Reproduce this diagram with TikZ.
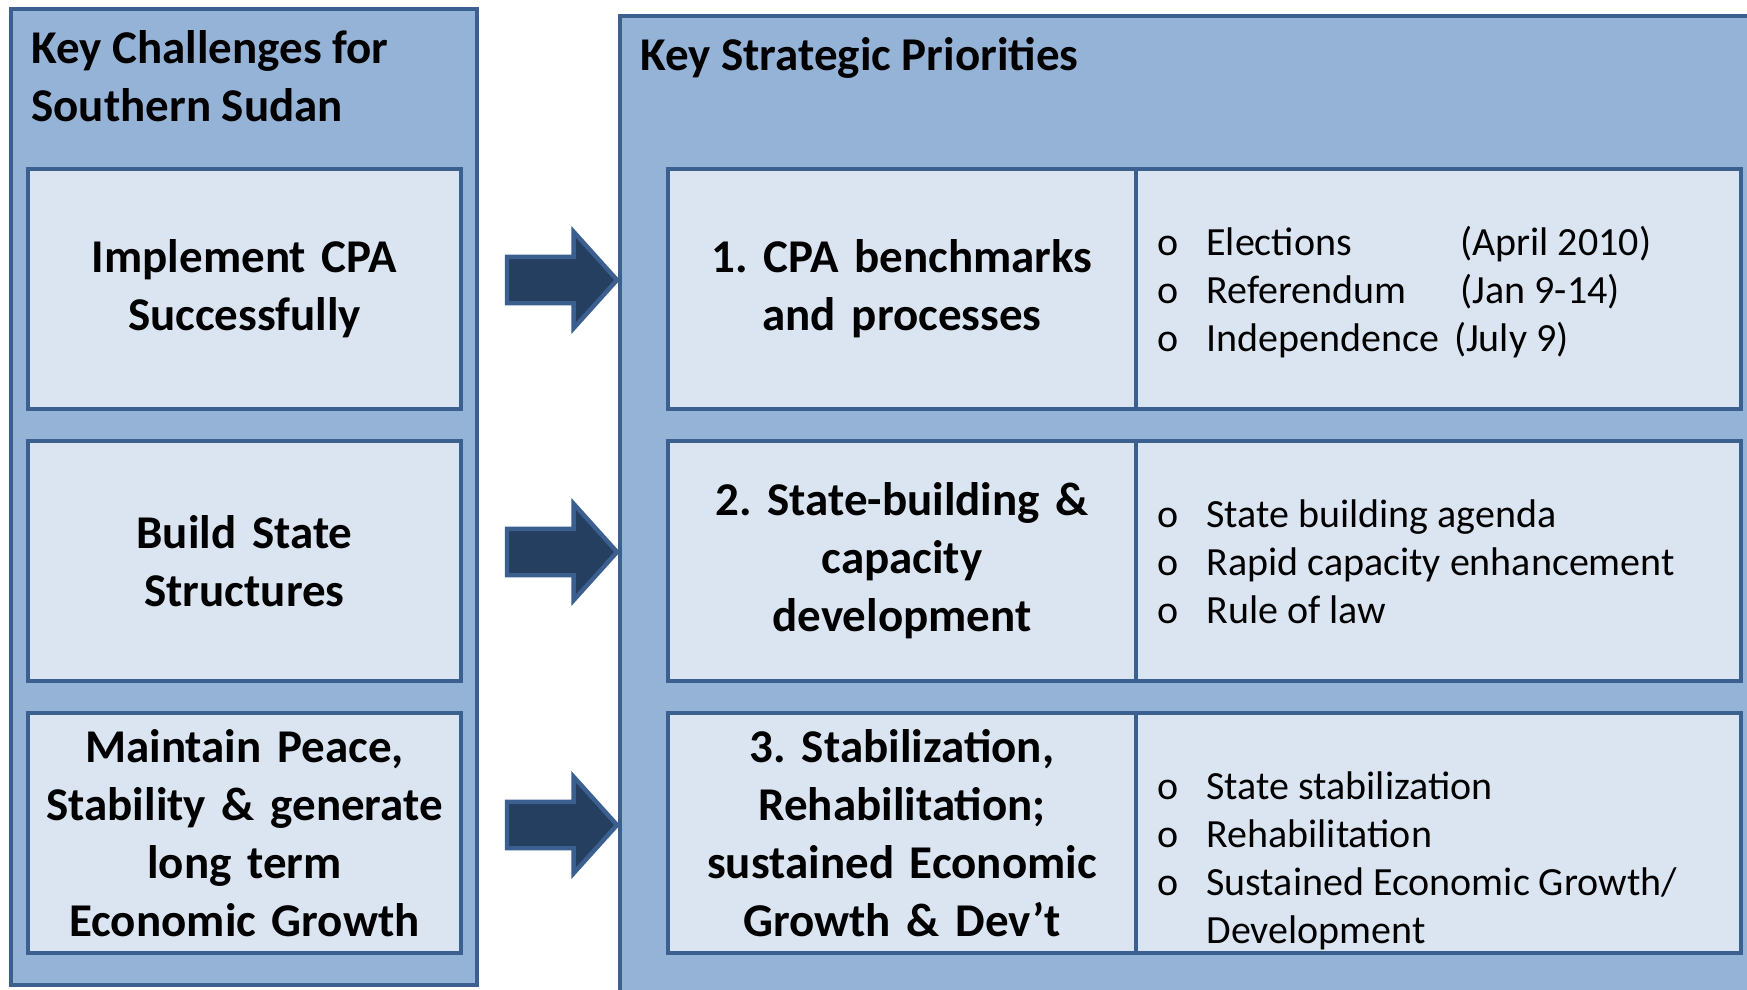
\documentclass[tikz,border=0pt]{standalone}
\usepackage{fontspec}
\setmainfont{Carlito}
\usetikzlibrary{positioning,shapes.arrows}
\definecolor{panefill}{HTML}{95B3D7}
\definecolor{cellfill}{HTML}{DBE5F1}
\definecolor{edgeline}{HTML}{3B6090}
\definecolor{arrowfill}{HTML}{243F60}
\newcommand{\bigtext}{\fontsize{23.5}{29}\selectfont\bfseries\frenchspacing}
\newcommand{\listtext}{\fontsize{20}{24}\selectfont}
\newcommand{\bitem}[1]{\makebox[24.5pt][l]{o}#1}
\tikzset{%
    panel/.style={
      rectangle,
      draw=edgeline,
      fill=panefill,
      line width=2pt,
      outer sep=0pt,
      anchor=north west
    },
    challenge/.style={
      rectangle,
      draw=edgeline,
      fill=cellfill,
      line width=2pt,
      outer sep=0pt,
      inner sep=0pt,
      anchor=north west,
      text width=216.5pt,
      minimum height=120pt,
      align=center,
      font=\bigtext
    },
    priority/.style={
      challenge,
      text width=234pt
    },
    measures/.style={
      rectangle,
      draw=edgeline,
      fill=cellfill,
      line width=2pt,
      outer sep=0pt,
      anchor=north west,
      minimum width=302.5pt,
      minimum height=120pt
    },
    heading/.style={
      anchor=north west,
      inner sep=0pt,
      align=left,
      font=\bigtext
    },
    bullets/.style={
      anchor=north west,
      inner sep=0pt,
      align=left,
      font=\listtext
    },
    push/.style={
      single arrow,
      draw=edgeline,
      fill=arrowfill,
      line width=2.2pt,
      inner sep=0pt,
      text height=10.5pt,
      text depth=10.5pt,
      minimum height=55pt,
      single arrow head extend=12.5pt,
      single arrow tip angle=96,
      anchor=tip
    }
  }

\begin{document}
\begin{tikzpicture}[x=0.5pt, y=-0.5pt]
      \useasboundingbox (0,0) rectangle (1747,990);
      \clip (0,0) rectangle (1747,990);

      % left column
      \node [panel, minimum width=233pt, minimum height=488pt] (kc) at (11,9) {};
      \node [heading] (kct) at (31,23) {\strut Key Challenges for\\Southern Sudan};

      \node [challenge] (ch1) at (28,169) {Implement CPA\\Successfully};
      \node [challenge] (ch2) at (28,441) {Build State\\Structures};
      \node [challenge] (ch3) at (28,713) {Maintain Peace,\\Stability \& generate\\long term\\Economic Growth};

      % right column
      \node [panel, minimum width=600pt, minimum height=500pt] (sp) at (620,16) {};
      \node [heading] (spt) at (640,30) {\strut Key Strategic Priorities};

      \node [priority] (pr1) at (668,169) {1. CPA benchmarks\\and processes};
      \node [priority] (pr2) at (668,441) {2. State-building \&\\capacity\\development};
      \node [priority] (pr3) at (668,713) {3. Stabilization,\\Rehabilitation;\\sustained Economic\\Growth \& Dev’t};

      \node [measures] (ms1) at (1136,169) {};
      \node [measures] (ms2) at (1136,441) {};
      \node [measures] (ms3) at (1136,713) {};

      \node [bullets] (bl1) at (1157,221) {\strut\bitem{\makebox[127pt][l]{Elections}(April 2010)}\\
        \bitem{\makebox[127pt][l]{Referendum}(Jan 9-14)}\\
        \bitem{Independence\hspace{3pt} (July 9)}};
      \node [bullets] (bl2) at (1157,493) {\strut\bitem{State building agenda}\\
        \bitem{Rapid capacity enhancement}\\
        \bitem{Rule of law}};
      \node [bullets] (bl3) at (1157,765) {\strut\bitem{State stabilization}\\
        \bitem{Rehabilitation}\\
        \bitem{Sustained Economic Growth/}\\
        \hspace*{24.5pt}Development};

      % arrows
      \node [push] (ar1) at (620,280) {};
      \node [push] (ar2) at (620,552) {};
      \node [push] (ar3) at (620,825) {};
    \end{tikzpicture}
\end{document}
